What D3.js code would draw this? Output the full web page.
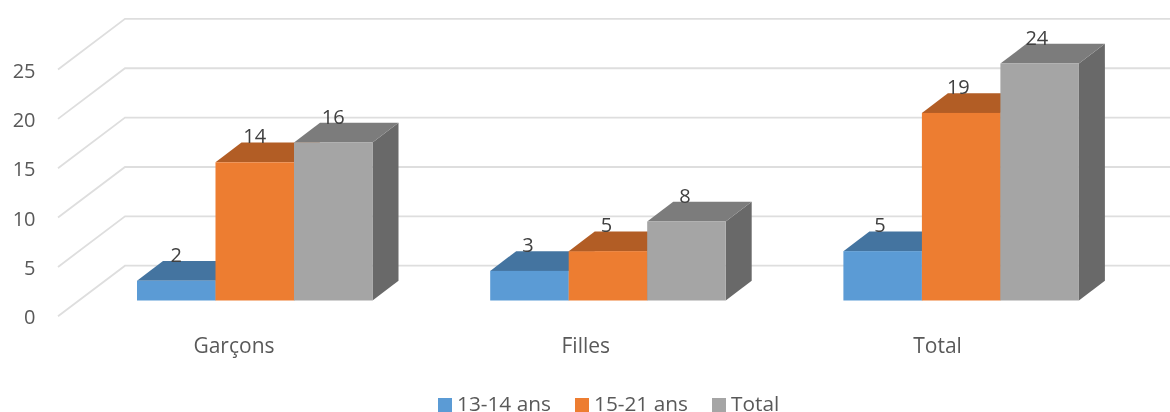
<!DOCTYPE html>
<html><head><meta charset="utf-8">
<script src="https://cdn.jsdelivr.net/npm/d3@7"></script>
<style>html,body{margin:0;padding:0;background:#fff}svg{display:block;filter:blur(0.4px)}text{font-family:"Open Sans",Lato,sans-serif}</style>
</head><body><svg id="c" width="1170" height="412"></svg>
<script>
const categories = ["Garçons","Filles","Total"];
const seriesNames = ["13-14 ans","15-21 ans","Total"];
const values13 = [2,3,5];
const values15 = [14,5,19];
const valuesTotal = [16,8,24];
const tickValues = [0,5,10,15,20,25];
const frontColors = ["#5b9bd5","#ed7d31","#a5a5a5"];
const topColors = ["#4474a0","#b25d25","#7c7c7c"];
const sideColors = ["#3a6590","#9a5120","#696969"];
const seriesValues = [values13,values15,valuesTotal];

const svg = d3.select("#c");
const y = d3.scaleLinear().domain([0,25]).range([300.5,53.7]);
const x1 = d3.scaleBand().domain(seriesNames).range([0,235.5]);
const step = 353.2, startX = 137, labelStep = 351.8;
const catX = d3.scaleOrdinal().domain(categories).range(categories.map((_,i)=>startX+i*step));
const labelX = d3.scaleOrdinal().domain(categories).range(categories.map((_,i)=>startX+i*labelStep));
const depthX = 26, depthY = 19.7;
const wallBackX = 125, wallEndX = 1170, wallFrontX = 58;
const wallDY = -34.8, floorDY = 15.8;

const line = d3.line();
const grid = svg.append("g");
tickValues.forEach(t=>{
  const yb = y(t)+wallDY, yf = y(t)+floorDY;
  grid.append("path").attr("d",line([[wallFrontX,yf],[wallBackX,yb],[wallEndX,yb]]))
    .attr("fill","none").attr("stroke","#dedede").attr("stroke-width",1.8);
  svg.append("text").attr("x",35.5).attr("y",yf+8).attr("text-anchor","end")
    .attr("font-size",20).attr("fill","#595959").text(t);
});

categories.forEach((c,ci)=>{
  const g = svg.append("g");
  seriesNames.forEach((s,si)=>{
    const v = seriesValues[si][ci];
    const L = catX(c)+x1(s), R = L+x1.bandwidth(), T = y(v), B = y(0);
    g.append("path").attr("d",line([[R,B],[R+depthX,B-depthY],[R+depthX,T-depthY],[R,T]])+"Z").attr("fill",sideColors[si]);
    g.append("path").attr("d",line([[L,T],[L+depthX,T-depthY],[R+depthX,T-depthY],[R,T]])+"Z").attr("fill",topColors[si]);
    g.append("rect").attr("x",L).attr("y",T).attr("width",x1.bandwidth()).attr("height",B-T).attr("fill",frontColors[si]);
  });
});
categories.forEach((c,ci)=>{
  seriesNames.forEach((s,si)=>{
    const v = seriesValues[si][ci];
    svg.append("text").attr("x",labelX(c)+x1(s)+x1.bandwidth()/2).attr("y",y(v)-19)
      .attr("text-anchor","middle").attr("font-size",20).attr("fill","#404040").text(v);
  });
  svg.append("text").attr("x",labelX(c)+x1.range()[1]/2-20.75).attr("y",353)
    .attr("text-anchor","middle").attr("font-size",21).attr("fill","#595959").text(c);
});
const legendSwatchX = [438,575,712];
seriesNames.forEach((s,i)=>{
  svg.append("rect").attr("x",legendSwatchX[i]).attr("y",398).attr("width",14).attr("height",14).attr("fill",frontColors[i]);
  svg.append("text").attr("x",legendSwatchX[i]+19).attr("y",411).attr("font-size",20.8).attr("fill","#595959").text(s);
});
</script></body></html>
